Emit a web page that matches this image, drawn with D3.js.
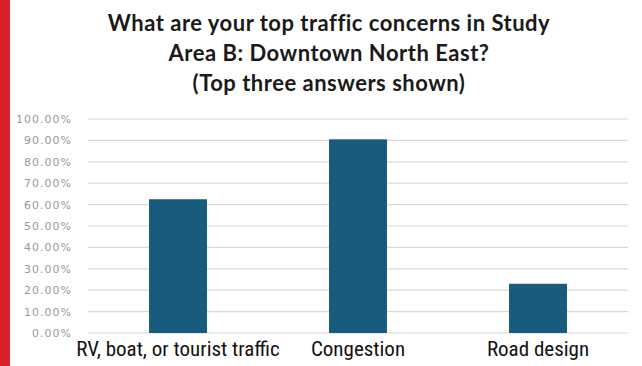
<!DOCTYPE html>
<html>
<head>
<meta charset="utf-8">
<script src="https://cdn.jsdelivr.net/npm/d3@7"></script>
<style>
  body { margin: 0; background: #fff; }
  svg { display: block; }
</style>
</head>
<body>
<div id="vis"></div>
<script>
    // Chart data
    var categories = ["RV, boat, or tourist traffic", "Congestion", "Road design"];
    var values = [0.625, 0.905, 0.23];
    var yTicks = [0, 0.1, 0.2, 0.3, 0.4, 0.5, 0.6, 0.7, 0.8, 0.9, 1.0];
    var titleLines = ["What are your top traffic concerns in Study",
                      "Area B: Downtown North East?",
                      "(Top three answers shown)"];

    var width = 642,
        height = 366,
        margin = { top: 119, right: 14, bottom: 33, left: 88 };

    var svg = d3.select("#vis").append("svg")
        .attr("width", width)
        .attr("height", height);

    // red strip on the left edge
    svg.append("rect")
        .attr("x", 0).attr("y", 0)
        .attr("width", 10).attr("height", height)
        .attr("fill", "#d8202a");

    var x = d3.scaleBand()
        .domain(categories)
        .range([margin.left, width - margin.right])
        .paddingInner(0.678)
        .paddingOuter(0.339);

    var y = d3.scaleLinear()
        .domain([0, 1])
        .range([height - margin.bottom, margin.top]);

    // Title
    svg.append("g")
        .selectAll("text")
        .data(titleLines)
        .enter().append("text")
        .attr("x", 329)
        .attr("y", function(d, i) { return 31 + i * 30; })
        .attr("text-anchor", "middle")
        .attr("font-family", "Lato, sans-serif")
        .attr("font-weight", "bold")
        .attr("font-size", 22)
        .attr("letter-spacing", 0.5)
        .attr("fill", "#1a1a1a")
        .text(function(d) { return d; });

    // Gridlines
    svg.append("g")
        .selectAll("line")
        .data(yTicks)
        .enter().append("line")
        .attr("x1", margin.left)
        .attr("x2", width - margin.right)
        .attr("y1", function(d) { return y(d); })
        .attr("y2", function(d) { return y(d); })
        .attr("stroke", "#d9d9d9")
        .attr("stroke-width", 1.2);

    // Y axis labels
    var yAxis = d3.axisLeft(y)
        .tickValues(yTicks)
        .tickSize(0)
        .tickPadding(0)
        .tickFormat(d3.format(".2%"));

    svg.append("g")
        .attr("transform", "translate(72,0)")
        .call(yAxis)
        .call(function(g) { g.select(".domain").remove(); })
        .selectAll("text")
        .attr("font-family", "'DejaVu Sans', sans-serif")
        .attr("font-size", 11)
        .attr("letter-spacing", 1)
        .attr("fill", "#999");

    // Bars
    svg.append("g")
        .selectAll("rect")
        .data(values)
        .enter().append("rect")
        .attr("x", function(d, i) { return x(categories[i]); })
        .attr("y", function(d) { return y(d); })
        .attr("width", x.bandwidth())
        .attr("height", function(d) { return y(0) - y(d); })
        .attr("fill", "#195b7d");

    // Category labels
    var xAxis = d3.axisBottom(x).tickSize(0).tickPadding(0);
    svg.append("g")
        .attr("transform", "translate(0," + (height - margin.bottom) + ")")
        .call(xAxis)
        .call(function(g) { g.select(".domain").remove(); })
        .selectAll("text")
        .attr("dy", "1.1em")
        .attr("font-family", "'Roboto Condensed', 'Liberation Sans Narrow', 'DejaVu Sans Condensed', sans-serif")
        .attr("font-stretch", "condensed")
        .attr("font-size", 21)
        .attr("fill", "#111");
</script>
</body>
</html>
